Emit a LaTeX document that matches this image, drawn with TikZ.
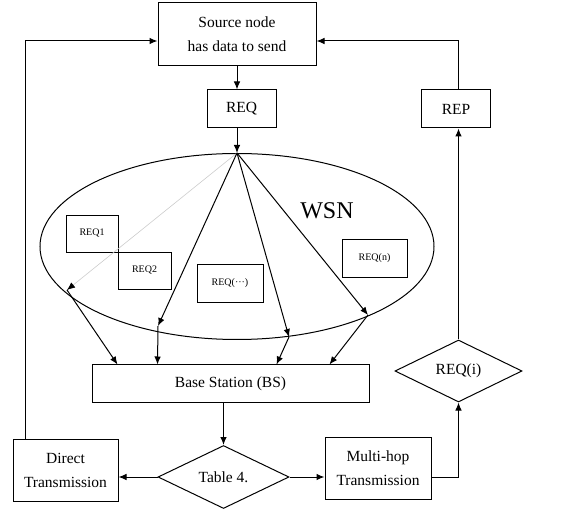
\documentclass[tikz,border=0pt]{standalone}
\usepackage{fontspec}
\setmainfont{Liberation Serif}
\usetikzlibrary{shapes.geometric,arrows.meta}

\begin{document}
\begin{tikzpicture}[
    x=1pt,y=-1pt,
    box/.style={
        draw,
        line width=1pt,
        align=center,
        inner sep=0pt,
        font=\fontsize{15.5}{24}\selectfont
    },
    smallbox/.style={
        draw,
        line width=0.9pt,
        inner sep=0pt,
        font=\fontsize{10}{12}\selectfont
    },
    decision/.style={
        draw,
        diamond,
        aspect=2,
        inner sep=0pt,
        line width=1pt,
        font=\fontsize{15.5}{18}\selectfont
    },
    flow/.style={-{Latex[length=8pt,width=6.5pt]},line width=1pt}
    ]
    \useasboundingbox (0,0) rectangle (562,510);
    % top part
    \node[box,minimum width=158,minimum height=63] at (237,34.5)
        (source) {Source node\\has data to send};
    \node[box,minimum width=69,minimum height=38] at (241.5,109)
        (req) {REQ};
    \node[box,minimum width=69,minimum height=38] at (456,109)
        (rep) {REP};
    % the network
    \node[draw,ellipse,line width=1pt,inner sep=0pt,minimum width=394,minimum height=186] at (237,246.5)
        (wsn) {};
    \node[font=\fontsize{24}{28}\selectfont] at (327,211)
        (wsnlabel) {WSN};
    \node[smallbox,minimum width=52,minimum height=37] at (92,233.5)
        (req1) {REQ1};
    \node[smallbox,minimum width=53,minimum height=37] at (144.5,270.5)
        (req2) {REQ2};
    \node[smallbox,minimum width=66,minimum height=38] at (230,283)
        (reqdots) {REQ(···)};
    \node[smallbox,minimum width=65,minimum height=38] at (374.5,258)
        (reqn) {REQ(n)};
    \coordinate (c1) at (67,290);
    \coordinate (c2) at (158,326);
    \coordinate (c3) at (289,337);
    \coordinate (c4) at (368,315);
    % bottom part
    \node[box,minimum width=277,minimum height=37] at (230.5,383.5)
        (bs) {Base Station (BS)};
    \node[decision,minimum width=131,minimum height=63] at (223.5,477)
        (table) {Table 4.};
    \node[box,minimum width=105,minimum height=62] at (65.5,470)
        (direct) {Direct\\Transmission};
    \node[box,minimum width=106,minimum height=62] at (378,468)
        (multi) {Multi-hop\\Transmission};
    \node[decision,minimum width=127,minimum height=62] at (458.5,371)
        (reqi) {REQ(i)};
    % connectors
    \draw[flow] (source.south -| wsn.north) -- (req.north -| wsn.north);
    \draw[flow] (req.south -| wsn.north) -- (wsn.north);
    \draw[-{Latex[length=8pt,width=6.5pt,black]},gray!40,line width=0.6pt] (wsn.north) -- (c1);
    \draw[flow] (wsn.north) -- (c2);
    \draw[flow] (wsn.north) -- (c3);
    \draw[flow] (wsn.north) -- (c4);
    \draw[flow] (c1) -- ([xshift=26]bs.north west);
    \draw[flow] (c2) -- ([xshift=66]bs.north west);
    \draw[flow] (c3) -- ([xshift=185]bs.north west);
    \draw[flow] (c4) -- ([xshift=238]bs.north west);
    \draw[flow] (table.north |- bs.south) -- (table.north);
    \draw[flow] (table.west) -- (table.west -| direct.east);
    \draw[flow] (table.east) -- (table.east -| multi.west);
    \draw[flow] (multi.east |- table.east) -| (reqi.south);
    \draw[flow] (reqi.north) -- (reqi.north |- rep.south);
    \draw[flow] (reqi.north |- rep.north) |- ([yshift=-6.5]source.east);
    \draw[flow] ([xshift=13]direct.north west) |- ([yshift=-6.5]source.west);
\end{tikzpicture}
\end{document}
